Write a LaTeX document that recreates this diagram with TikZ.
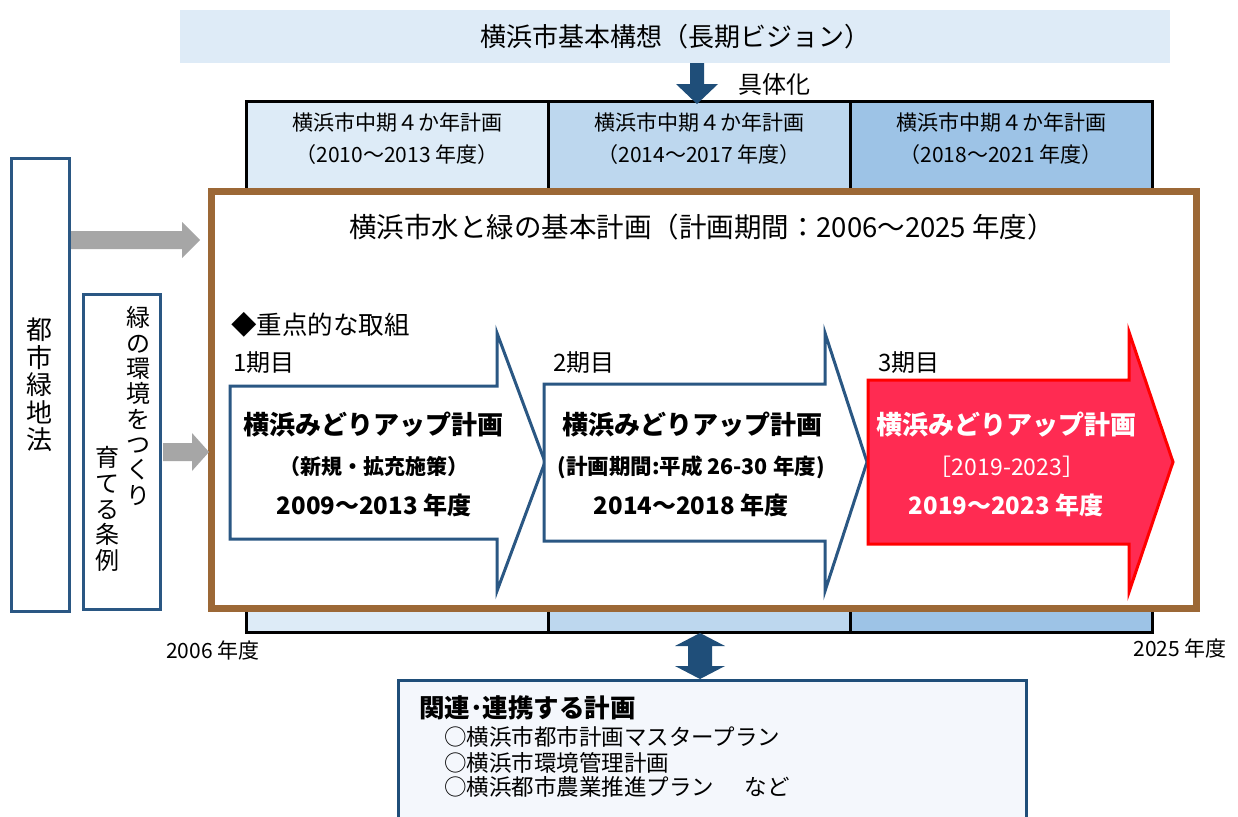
\documentclass[tikz,border=0pt]{standalone}
\usepackage{fontspec}
\setmainfont{Noto Sans CJK JP}
\newcommand\fz[2]{\fontsize{#1pt}{#2pt}\selectfont}
\definecolor{visfill}{HTML}{DEEBF7}
\definecolor{pone}{HTML}{DDEBF7}
\definecolor{ptwo}{HTML}{BDD7EE}
\definecolor{pthree}{HTML}{9DC3E6}
\definecolor{brownc}{HTML}{9C6836}
\definecolor{blueline}{HTML}{2A5783}
\definecolor{darkblue}{HTML}{1F4E79}
\definecolor{grayarr}{HTML}{A6A6A6}
\definecolor{redfill}{HTML}{FF2B52}
\definecolor{redline}{HTML}{FF0000}
\definecolor{relfill}{HTML}{F4F7FC}
\tikzset{
  txt/.style={inner sep=0pt, outer sep=0pt},
  lbox/.style={draw=blueline, line width=3pt, fill=white},
  bigarr/.style={draw=blueline, line width=3pt, fill=white, line join=miter},
  redarr/.style={draw=redline, line width=3pt, fill=redfill, line join=miter},
}
\begin{document}
\begin{tikzpicture}[x=1pt,y=-1pt]
\useasboundingbox (0,0) rectangle (1238,816);
\fill[white] (0,0) rectangle (1238,816);
% long-term vision
\node[txt, fill=visfill, minimum width=990pt, minimum height=53pt, font=\fz{26}{26}] (vision) at (675,36.5) {横浜市基本構想（長期ビジョン）};
% period boxes
\fill[pone] (246,101) rectangle (548,632);
\fill[ptwo] (548,101) rectangle (850,632);
\fill[pthree] (850,101) rectangle (1152,632);
\draw[black, line width=3pt] (246,101) rectangle (1152,632);
\draw[black, line width=3pt] (548,101) -- (548,632) (850,101) -- (850,632);
\node[txt, align=center, font=\fz{21}{32}] (p1) at (397,139) {横浜市中期４か年計画\\（2010～2013 年度）};
\node[txt, align=center, font=\fz{21}{32}] (p2) at (699,139) {横浜市中期４か年計画\\（2014～2017 年度）};
\node[txt, align=center, font=\fz{21}{32}] (p3) at (1001,139) {横浜市中期４か年計画\\（2018～2021 年度）};
% concretization arrow
\fill[darkblue] (690,63) -- (704,63) -- (704,84) -- (718,84) -- (697,104) -- (676,84) -- (690,84) -- cycle;
\node[txt, font=\fz{24}{24}] (gutai) at (774,84) {具体化};
% main frame
\draw[brownc, line width=7pt, fill=white] (211,191) rectangle (1196,608);
\node[txt, font=\fz{27.5}{27.5}] (plan) at (702,227) {横浜市水と緑の基本計画（計画期間：2006～2025 年度）};
% left boxes
\draw[lbox] (11,158) rectangle (69,611);
\node[txt, align=center, font=\fz{26}{27.5}] (law) at (40,385) {都\\市\\緑\\地\\法};
\draw[lbox] (83,294) rectangle (160,609);
\node[txt, align=center, font=\fz{24}{25.3}] (ord1) at (138,406) {緑\\の\\環\\境\\を\\つ\\く\\り};
\node[txt, align=center, font=\fz{24}{25.6}] (ord2) at (107,509) {育\\て\\る\\条\\例};
% gray arrows
\fill[grayarr] (71,231) -- (182,231) -- (182,222) -- (200,240) -- (182,258) -- (182,249) -- (71,249) -- cycle;
\fill[grayarr] (163,443) -- (192,443) -- (192,433) -- (209,452) -- (192,471) -- (192,461) -- (163,461) -- cycle;
% key initiatives
\node[txt, anchor=west, font=\fz{25.5}{25.5}] (key) at (231,325) {◆重点的な取組};
\node[txt, anchor=west, font=\fz{24}{24}] (t1) at (233,363) {1期目};
\node[txt, anchor=west, font=\fz{24}{24}] (t2) at (553,363) {2期目};
\node[txt, anchor=west, font=\fz{24}{24}] (t3) at (878,363) {3期目};
% arrow 1
\draw[bigarr] (230,386) -- (497,386) -- (497,333) -- (545,462) -- (497,591) -- (497,539) -- (230,539) -- cycle;
\node[txt, font=\bfseries\fz{26}{26}] (a1a) at (373,425) {横浜みどりアップ計画};
\node[txt, font=\bfseries\fz{21}{21}] (a1b) at (374,467) {（新規・拡充施策）};
\node[txt, font=\bfseries\fz{24}{24}] (a1c) at (374,505) {2009～2013 年度};
% arrow 2
\draw[bigarr] (544,384) -- (825,384) -- (825,333) -- (867,462) -- (825,591) -- (825,541) -- (544,541) -- cycle;
\node[txt, font=\bfseries\fz{26}{26}] (a2a) at (692,425) {横浜みどりアップ計画};
\node[txt, font=\bfseries\fz{21.5}{21.5}] (a2b) at (691,467) {(計画期間:平成 26-30 年度)};
\node[txt, font=\bfseries\fz{24}{24}] (a2c) at (691,505) {2014～2018 年度};
% arrow 3
\draw[redarr] (868,380) -- (1129,380) -- (1129,332) -- (1173,462) -- (1129,592) -- (1129,544) -- (868,544) -- cycle;
\node[txt, text=white, font=\bfseries\fz{26}{26}] (a3a) at (1006,425) {横浜みどりアップ計画};
\node[txt, text=white, font=\fz{23}{23}] (a3b) at (1007,467) {［2019-2023］};
\node[txt, text=white, font=\bfseries\fz{24}{24}] (a3c) at (1006,505) {2019～2023 年度};
% years
\node[txt, font=\fz{21}{21}] (y1) at (213,650) {2006 年度};
\node[txt, font=\fz{21}{21}] (y2) at (1180,648) {2025 年度};
% double arrow
\fill[darkblue] (700,633) -- (725,646) -- (712,646) -- (712,666) -- (725,666) -- (700,679) -- (675,666) -- (688,666) -- (688,646) -- (675,646) -- cycle;
% related plans
\draw[draw=darkblue, line width=3pt, fill=relfill] (398,680) rectangle (1026,830);
\node[txt, anchor=west, font=\bfseries\fz{25.5}{25.5}] (rel) at (419,708) {関連･連携する計画};
\node[txt, anchor=west, font=\fz{22.5}{22.5}] (r1) at (444,737) {○横浜市都市計画マスタープラン};
\node[txt, anchor=west, font=\fz{22.5}{22.5}] (r2) at (444,763) {○横浜市環境管理計画};
\node[txt, anchor=west, font=\fz{22.5}{22.5}] (r3) at (444,787) {○横浜都市農業推進プラン\hspace{31pt}など};
\end{tikzpicture}
\end{document}
